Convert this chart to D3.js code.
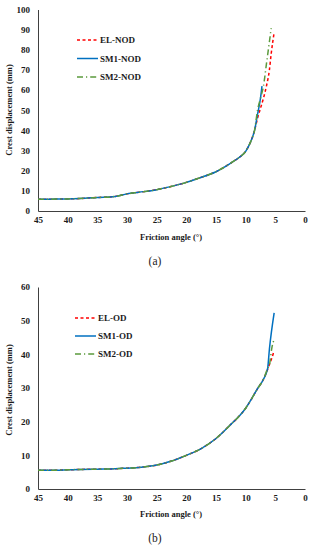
<!DOCTYPE html>
<html>
<head>
<meta charset="utf-8">
<script src="https://cdn.jsdelivr.net/npm/d3@7"></script>
<style>
  body { margin: 0; background: #fff; }
  svg text { font-family: "Liberation Serif", "DejaVu Serif", serif; fill: #1a1a1a; }
</style>
</head>
<body>
<div id="chart"></div>
<script>
// Friction angles (deg) for panel (a) and (b)
const angleNOD = [45, 42, 40, 38, 35, 32, 30, 28, 25, 22, 20, 18, 15, 12.5, 11, 10, 9.5, 9, 8.5, 8, 7.5, 7.25, 7, 6.5, 6, 5.7, 5.2];
const elNOD  = [5.8, 5.9, 6.0, 6.2, 6.7, 7.2, 8.5, 9.3, 10.6, 12.6, 14.2, 16.2, 19.5, 23.8, 26.8, 29.6, 32.2, 35.5, 40, 46, 51, null, 56, 62, 70, 78, 88.6];
const sm1NOD = [5.8, 5.9, 6.0, 6.2, 6.7, 7.2, 8.5, 9.3, 10.6, 12.6, 14.2, 16.2, 19.5, 23.8, 26.8, 29.6, 32.2, 35.5, 40, 48, 56, 62, null, null, null, null, null];
const sm2NOD = [5.8, 5.9, 6.0, 6.2, 6.7, 7.2, 8.5, 9.3, 10.6, 12.6, 14.2, 16.2, 19.5, 23.8, 26.8, 29.6, 32.2, 35.5, 40, 50, 56, null, 62, 73, 84, 90.7, null];

const angleOD = [45, 42, 40, 38, 35, 32, 30, 28, 27, 25, 22.5, 20, 17.5, 15, 12.5, 11, 10, 9, 8, 7, 6.3, 6, 5.6, 5.2];
const elOD  = [5.6, 5.6, 5.7, 5.8, 5.9, 6.0, 6.2, 6.4, 6.6, 7.1, 8.3, 10.0, 12.0, 15.0, 19.2, 21.8, 24.0, 26.8, 29.8, 32.6, 35.5, 37.0, 38.8, 41.1];
const sm1OD = [5.6, 5.6, 5.7, 5.8, 5.9, 6.0, 6.2, 6.4, 6.6, 7.1, 8.3, 10.0, 12.0, 15.0, 19.2, 21.8, 24.0, 26.8, 29.8, 32.6, 35.8, 41.5, null, 52.3];
const sm2OD = [5.6, 5.6, 5.7, 5.8, 5.9, 6.0, 6.2, 6.4, 6.6, 7.1, 8.3, 10.0, 12.0, 15.0, 19.2, 21.8, 24.0, 26.8, 29.8, 32.6, 35.8, 36.8, 41.8, 44.4];

const xTicks = [45, 40, 35, 30, 25, 20, 15, 10, 5, 0];
const yTicksA = [0, 10, 20, 30, 40, 50, 60, 70, 80, 90, 100];
const yTicksB = [0, 10, 20, 30, 40, 50, 60];

const seriesStyle = {
    EL:  {color: '#ff0000', dash: '3,2.5'},
    SM1: {color: '#0070c0', dash: null},
    SM2: {color: '#5b9a3c', dash: '6,3,1.2,3'}
};

const width = 313, height = 550;
const svg = d3.select('#chart').append('svg')
    .attr('width', width)
    .attr('height', height);

function drawPanel(opt) {
    const x = d3.scaleLinear().domain([45, 0]).range([38, 305]);
    const y = d3.scaleLinear().domain([0, opt.yMax]).range([opt.y0, opt.yTop]);

    const g = svg.append('g');

    // axes (no tick marks, just lines and labels)
    const xAxis = g.append('g')
        .attr('transform', `translate(0,${opt.y0})`)
        .call(d3.axisBottom(x).tickValues(xTicks).tickSize(0).tickPadding(6));
    const yAxis = g.append('g')
        .attr('transform', `translate(38,0)`)
        .call(d3.axisLeft(y).tickValues(opt.yTicks).tickSize(0).tickPadding(8));

    [xAxis, yAxis].forEach(a => {
        a.select('.domain').attr('stroke', '#404040').attr('stroke-width', 1);
        a.selectAll('text')
            .attr('font-family', '"Liberation Serif", serif')
            .attr('font-size', 9)
            .attr('font-weight', 'bold')
            .attr('fill', '#1a1a1a');
    });

    // series lines
    const line = d3.line()
        .curve(d3.curveMonotoneX)
        .x(d => x(d[0]))
        .y(d => y(d[1]));

    opt.series.forEach(s => {
        const pts = opt.angles.map((a, i) => [a, s.values[i]]).filter(d => d[1] != null);
        const st = seriesStyle[s.key];
        g.append('path')
            .datum(pts)
            .attr('fill', 'none')
            .attr('stroke', st.color)
            .attr('stroke-width', 1.5)
            .attr('stroke-dasharray', st.dash)
            .attr('d', line);
    });

    // legend
    const leg = g.append('g');
    opt.series.forEach((s, i) => {
        const st = seriesStyle[s.key];
        const ly = opt.legendY + i * opt.legendGap;
        leg.append('line')
            .attr('x1', opt.legendX).attr('x2', opt.legendX + 21)
            .attr('y1', ly).attr('y2', ly)
            .attr('stroke', st.color)
            .attr('stroke-width', 1.5)
            .attr('stroke-dasharray', st.dash);
        leg.append('text')
            .attr('x', opt.legendX + 23)
            .attr('y', ly + 3)
            .attr('font-size', 9)
            .attr('font-weight', 'bold')
            .text(s.label);
    });

    // axis titles
    g.append('text')
        .attr('transform', `translate(12,${opt.yTitleY}) rotate(-90)`)
        .attr('text-anchor', 'middle')
        .attr('font-size', 8.5)
        .attr('font-weight', 'bold')
        .text('Crest displacement (mm)');

    g.append('text')
        .attr('x', 171)
        .attr('y', opt.xTitleY)
        .attr('text-anchor', 'middle')
        .attr('font-size', 8.5)
        .attr('font-weight', 'bold')
        .text('Friction angle (°)');

    g.append('text')
        .attr('x', 155)
        .attr('y', opt.capY)
        .attr('text-anchor', 'middle')
        .attr('font-size', 11.5)
        .text(opt.caption);
}

drawPanel({
    yMax: 100, y0: 211, yTop: 9.5, yTicks: yTicksA,
    angles: angleNOD,
    series: [
        {key: 'EL', label: 'EL-NOD', values: elNOD},
        {key: 'SM1', label: 'SM1-NOD', values: sm1NOD},
        {key: 'SM2', label: 'SM2-NOD', values: sm2NOD}
    ],
    legendX: 77, legendY: 40, legendGap: 18.5,
    yTitleY: 110, xTitleY: 240, capY: 265, caption: '(a)'
});

drawPanel({
    yMax: 60, y0: 489, yTop: 287, yTicks: yTicksB,
    angles: angleOD,
    series: [
        {key: 'EL', label: 'EL-OD', values: elOD},
        {key: 'SM1', label: 'SM1-OD', values: sm1OD},
        {key: 'SM2', label: 'SM2-OD', values: sm2OD}
    ],
    legendX: 75, legendY: 318, legendGap: 18,
    yTitleY: 390, xTitleY: 517, capY: 542, caption: '(b)'
});
</script>
</body>
</html>
